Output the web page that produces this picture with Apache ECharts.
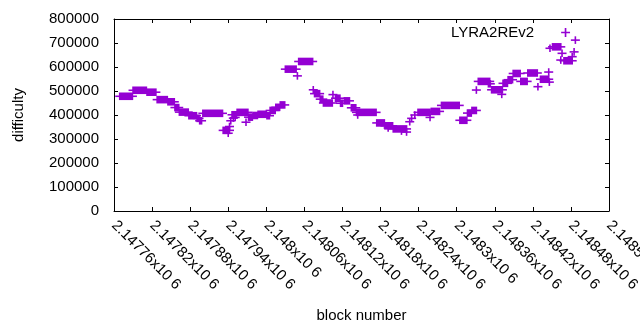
<!DOCTYPE html>
<html>
<head>
<meta charset="utf-8">
<script src="https://cdn.jsdelivr.net/npm/echarts@6/dist/echarts.min.js"></script>
<style>
  html, body { margin: 0; padding: 0; background: #fff; }
  #chart { width: 640px; height: 330px; }
</style>
</head>
<body>
<div id="chart"></div>
<script>
// runs of blocks at one difficulty (start block, end block, difficulty)
const runStart = [
  2147769, 2147790, 2147812, 2147828, 2147845, 2147856, 2147863, 2147878, 2147891, 2147895,
  2147900, 2147932, 2147940, 2147942, 2147944, 2147946, 2147948, 2147951, 2147954, 2147968,
  2147972, 2147979, 2147987, 2148001, 2148006, 2148015, 2148022, 2148030, 2148049, 2148051,
  2148074, 2148076, 2148085, 2148090, 2148105, 2148109, 2148117, 2148123, 2148134, 2148142,
  2148144, 2148174, 2148187, 2148192, 2148200, 2148213, 2148221, 2148226, 2148229, 2148234,
  2148239, 2148258, 2148260, 2148276, 2148305, 2148317, 2148324, 2148331, 2148334, 2148350,
  2148355, 2148371, 2148373, 2148381, 2148389, 2148401, 2148412, 2148428, 2148432, 2148445,
  2148446, 2148447, 2148451, 2148464, 2148466, 2148469, 2148482, 2148485, 2148487
];
const runEnd = [
  2147789, 2147811, 2147826, 2147844, 2147855, 2147862, 2147877, 2147890, 2147894, 2147898,
  2147931, 2147942, 2147940, 2147942, 2147944, 2147953, 2147948, 2147951, 2147971, 2147968,
  2147978, 2147986, 2148000, 2148005, 2148014, 2148021, 2148029, 2148047, 2148049, 2148073,
  2148074, 2148084, 2148089, 2148104, 2148105, 2148116, 2148120, 2148131, 2148141, 2148173,
  2148144, 2148186, 2148199, 2148192, 2148221, 2148213, 2148221, 2148226, 2148229, 2148234,
  2148258, 2148258, 2148273, 2148304, 2148316, 2148323, 2148331, 2148331, 2148352, 2148353,
  2148372, 2148371, 2148380, 2148388, 2148400, 2148411, 2148427, 2148428, 2148445, 2148445,
  2148446, 2148447, 2148464, 2148464, 2148466, 2148482, 2148482, 2148485, 2148487
];
const runDifficulty = [
  478000, 503000, 495000, 464000, 455000, 431000, 412000, 397000, 386000, 376000,
  407000, 336000, 324000, 352000, 376000, 401000, 387000, 390000, 411000, 370000,
  391000, 398000, 403000, 397000, 419000, 432000, 442000, 591000, 563000, 623000,
  505000, 489000, 466000, 450000, 485000, 470000, 449000, 459000, 430000, 411000,
  400000, 367000, 355000, 346000, 342000, 333000, 329000, 372000, 386000, 400000,
  411000, 390000, 415000, 440000, 378000, 408000, 419000, 504000, 540000, 530000,
  505000, 486000, 532000, 547000, 573000, 540000, 575000, 518000, 549000, 579000,
  537000, 678000, 684000, 629000, 657000, 626000, 643000, 663000, 712000
];

const xTicks = { min: 2147760, max: 2148540, step: 60 };
const yTicks = { min: 0, max: 800000, step: 100000 };

const data = runStart.map((s, i) => [s, runEnd[i], runDifficulty[i]]);

const purple = "#9400d3";
const plusIcon = "path://M3.5,0h1.6v3.6h3.6v1.6h-3.6v3.6h-1.6v-3.6h-3.5v-1.6h3.5z";

// each run is drawn like a row of "+" marks
function renderRun(params, api) {
  const p1 = api.coord([api.value(0), api.value(2)]);
  const p2 = api.coord([api.value(1), api.value(2)]);
  const w = p2[0] - p1[0];
  return {
    type: "group",
    children: [
      {
        type: "rect",
        shape: { x: p1[0] - 0.8, y: p1[1] - 3.8, width: w + 1.6, height: 7.6 },
        style: { fill: purple },
      },
      {
        type: "rect",
        shape: { x: p1[0] - 4.5, y: p1[1] - 0.8, width: w + 9, height: 1.6 },
        style: { fill: purple },
      },
    ],
  };
}

const chart = echarts.init(document.getElementById("chart"), null, { renderer: "canvas" });
const font = "Liberation Sans";

const option = {
  animation: false,
  grid: { left: 114, right: 31, top: 19, bottom: 119, outerBoundsMode: "none", containLabel: false },
  legend: {
    left: 446,
    top: 20,
    align: "right",
    itemWidth: 9,
    itemHeight: 9,
    textStyle: { fontFamily: font, fontSize: 15, color: "#000", padding: [0, 22, 0, 0] },
    data: [{ name: "LYRA2REv2", icon: plusIcon, itemStyle: { color: purple } }],
  },
  xAxis: [
    {
      type: "value",
      min: xTicks.min,
      max: xTicks.max,
      interval: xTicks.step,
      name: "block number",
      nameLocation: "middle",
      nameGap: 97,
      nameTextStyle: { fontFamily: font, fontSize: 15, color: "#000" },
      axisLine: { show: true, onZero: false, lineStyle: { color: "#000", width: 1 } },
      axisTick: { inside: true, length: 4, lineStyle: { color: "#000" } },
      splitLine: { show: false },
      axisLabel: {
        rotate: -45,
        margin: 12,
        fontFamily: font,
        fontSize: 15,
        color: "#000",
        showMaxLabel: true,
        hideOverlap: false,
        formatter: (v) => parseFloat((v / 1e6).toFixed(5)) + "x10 6",
      },
    },
    {
      type: "value",
      position: "top",
      min: xTicks.min,
      max: xTicks.max,
      interval: xTicks.step,
      axisLine: { show: true, onZero: false, lineStyle: { color: "#000", width: 1 } },
      axisTick: { inside: true, length: 4, lineStyle: { color: "#000" } },
      axisLabel: { show: false },
      splitLine: { show: false },
    },
  ],
  yAxis: [
    {
      type: "value",
      min: yTicks.min,
      max: yTicks.max,
      interval: yTicks.step,
      name: "difficulty",
      nameLocation: "middle",
      nameGap: 88,
      nameTextStyle: { fontFamily: font, fontSize: 15, color: "#000" },
      axisLine: { show: true, onZero: false, lineStyle: { color: "#000", width: 1 } },
      axisTick: { show: true, inside: true, length: 4, lineStyle: { color: "#000" } },
      splitLine: { show: false },
      axisLabel: {
        margin: 15,
        fontFamily: font,
        fontSize: 15,
        color: "#000",
        formatter: (v) => String(v),
      },
    },
    {
      type: "value",
      position: "right",
      min: yTicks.min,
      max: yTicks.max,
      interval: yTicks.step,
      axisLine: { show: true, onZero: false, lineStyle: { color: "#000", width: 1 } },
      axisTick: { show: true, inside: true, length: 4, lineStyle: { color: "#000" } },
      axisLabel: { show: false },
      splitLine: { show: false },
    },
  ],
  series: [
    {
      name: "LYRA2REv2",
      type: "custom",
      xAxisIndex: 0,
      yAxisIndex: 0,
      renderItem: renderRun,
      encode: { x: [0, 1], y: 2 },
      data: data,
      itemStyle: { color: purple },
    },
  ],
};

chart.setOption(option);
</script>
</body>
</html>
